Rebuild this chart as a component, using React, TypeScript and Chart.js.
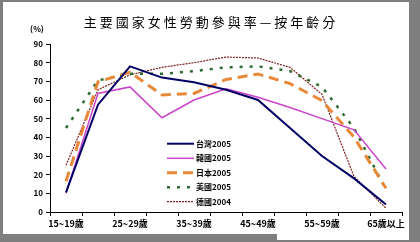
import React, { useEffect, useRef } from "react";
import { Chart, registerables } from "chart.js";

Chart.register(...registerables);

const TITLE = "主要國家女性勞動參與率—按年齡分";
const Y_UNIT = "(%)";
const AGE_GROUPS = ["15~19歲", "20~24歲", "25~29歲", "30~34歲", "35~39歲", "40~44歲", "45~49歲", "50~54歲", "55~59歲", "60~64歲", "65歲以上"];
const SERIES_NAMES = ["台灣2005", "韓國2005", "日本2005", "美國2005", "德國2004"];
const TAIWAN = [10.5, 57.5, 78, 72, 69.5, 65.5, 60, 45, 30, 18, 4];
const KOREA = [10, 63.5, 67, 50.5, 60, 66, 61.5, 56, 50, 44, 23];
const JAPAN = [16.5, 69.8, 74.9, 62.7, 63.5, 71.0, 73.9, 68.8, 59.7, 40.1, 12.7];
const USA = [45, 70.5, 74, 74, 75.5, 77.5, 78, 75.5, 67, 45, 12];
const GERMANY = [25, 65.5, 73.5, 77.5, 80, 83, 82.5, 77.5, 63, 19, 2];
const Y_MAX = 90;
const Y_STEP = 10;

const CJK = '"Noto Sans CJK TC", "Noto Sans", sans-serif';

export default function App() {
  const ref = useRef<HTMLCanvasElement | null>(null);

  useEffect(() => {
    document.body.style.margin = "0";
    const canvas = ref.current;
    if (!canvas) return;

    const styles = [
      { color: "#000066", width: 2, dash: [] as number[] },
      { color: "#CC44CC", width: 1.5, dash: [] as number[] },
      { color: "#E8893A", width: 3, dash: [10, 6] },
      { color: "#2E6B2E", width: 2.5, dash: [3, 7] },
      { color: "#7B2020", width: 1.2, dash: [2, 1] },
    ];
    const values = [TAIWAN, KOREA, JAPAN, USA, GERMANY];

    const overlay = {
      id: "overlay",
      afterDraw(chart: any) {
        const ctx = chart.ctx as CanvasRenderingContext2D;
        ctx.save();
        ctx.fillStyle = "#000";
        ctx.font = `13px ${CJK}`;
        (ctx as any).letterSpacing = "3px";
        ctx.textAlign = "center";
        ctx.textBaseline = "middle";
        ctx.fillText(TITLE, 211, 22);
        (ctx as any).letterSpacing = "0px";
        ctx.font = `bold 8px ${CJK}`;
        ctx.textAlign = "center";
        ctx.fillText(Y_UNIT, 37, 29);
        const rows = [143.7, 158.3, 172.7, 187.3, 201.7];
        chart.data.datasets.forEach((ds: any, i: number) => {
          const y = rows[i];
          ctx.beginPath();
          ctx.strokeStyle = ds.borderColor;
          ctx.lineWidth = ds.borderWidth;
          ctx.setLineDash(ds.borderDash || []);
          ctx.moveTo(167, y);
          ctx.lineTo(194, y);
          ctx.stroke();
          ctx.setLineDash([]);
          ctx.fillStyle = "#000";
          ctx.font = `bold 8px ${CJK}`;
          ctx.textAlign = "left";
          ctx.textBaseline = "middle";
          ctx.fillText(ds.label, 196, y);
        });
        ctx.restore();
      },
    };

    const chart = new Chart(canvas, {
      type: "line",
      data: {
        labels: AGE_GROUPS,
        datasets: SERIES_NAMES.map((name, i) => ({
          label: name,
          data: values[i],
          borderColor: styles[i].color,
          backgroundColor: styles[i].color,
          borderWidth: styles[i].width,
          borderDash: styles[i].dash,
          pointRadius: 0,
          tension: 0,
          fill: false,
        })),
      },
      options: {
        animation: false,
        responsive: false,
        devicePixelRatio: 1,
        layout: { padding: { left: 0, top: 44, right: 18, bottom: 0 } },
        plugins: {
          legend: { display: false },
          title: { display: false },
          tooltip: { enabled: false },
        },
        scales: {
          x: {
            type: "category",
            offset: true,
            grid: { offset: true, drawOnChartArea: false, tickLength: 4, color: "#000" },
            border: { color: "#000", width: 1 },
            ticks: {
              autoSkip: false,
              maxRotation: 0,
              minRotation: 0,
              padding: 2,
              color: "#000",
              font: { family: CJK, size: 9, weight: "bold" },
              callback: (_v: any, i: number) => (i % 2 === 0 ? AGE_GROUPS[i] : ""),
            },
            afterFit: (s: any) => {
              s.height = 30;
            },
          },
          y: {
            min: 0,
            max: Y_MAX,
            grid: { drawOnChartArea: false, tickLength: 4, color: "#000" },
            border: { color: "#000", width: 1 },
            ticks: {
              stepSize: Y_STEP,
              padding: 3,
              color: "#000",
              font: { family: CJK, size: 8, weight: "bold" },
            },
            afterFit: (s: any) => {
              s.width = 50;
            },
          },
        },
      },
      plugins: [overlay],
    });

    return () => chart.destroy();
  }, []);

  return (
    <div style={{ position: "fixed", left: 0, top: 0, width: 420, height: 242, background: "#7f7f7f", overflow: "hidden" }}>
      <div style={{ position: "absolute", left: 3, top: 2, width: 406, height: 232, background: "#fff" }} />
      <div style={{ position: "absolute", left: 277, top: 230, width: 132, height: 10, background: "#fff" }} />
      <canvas ref={ref} width={420} height={242} style={{ position: "absolute", left: 0, top: 0, width: 420, height: 242 }} />
    </div>
  );
}
